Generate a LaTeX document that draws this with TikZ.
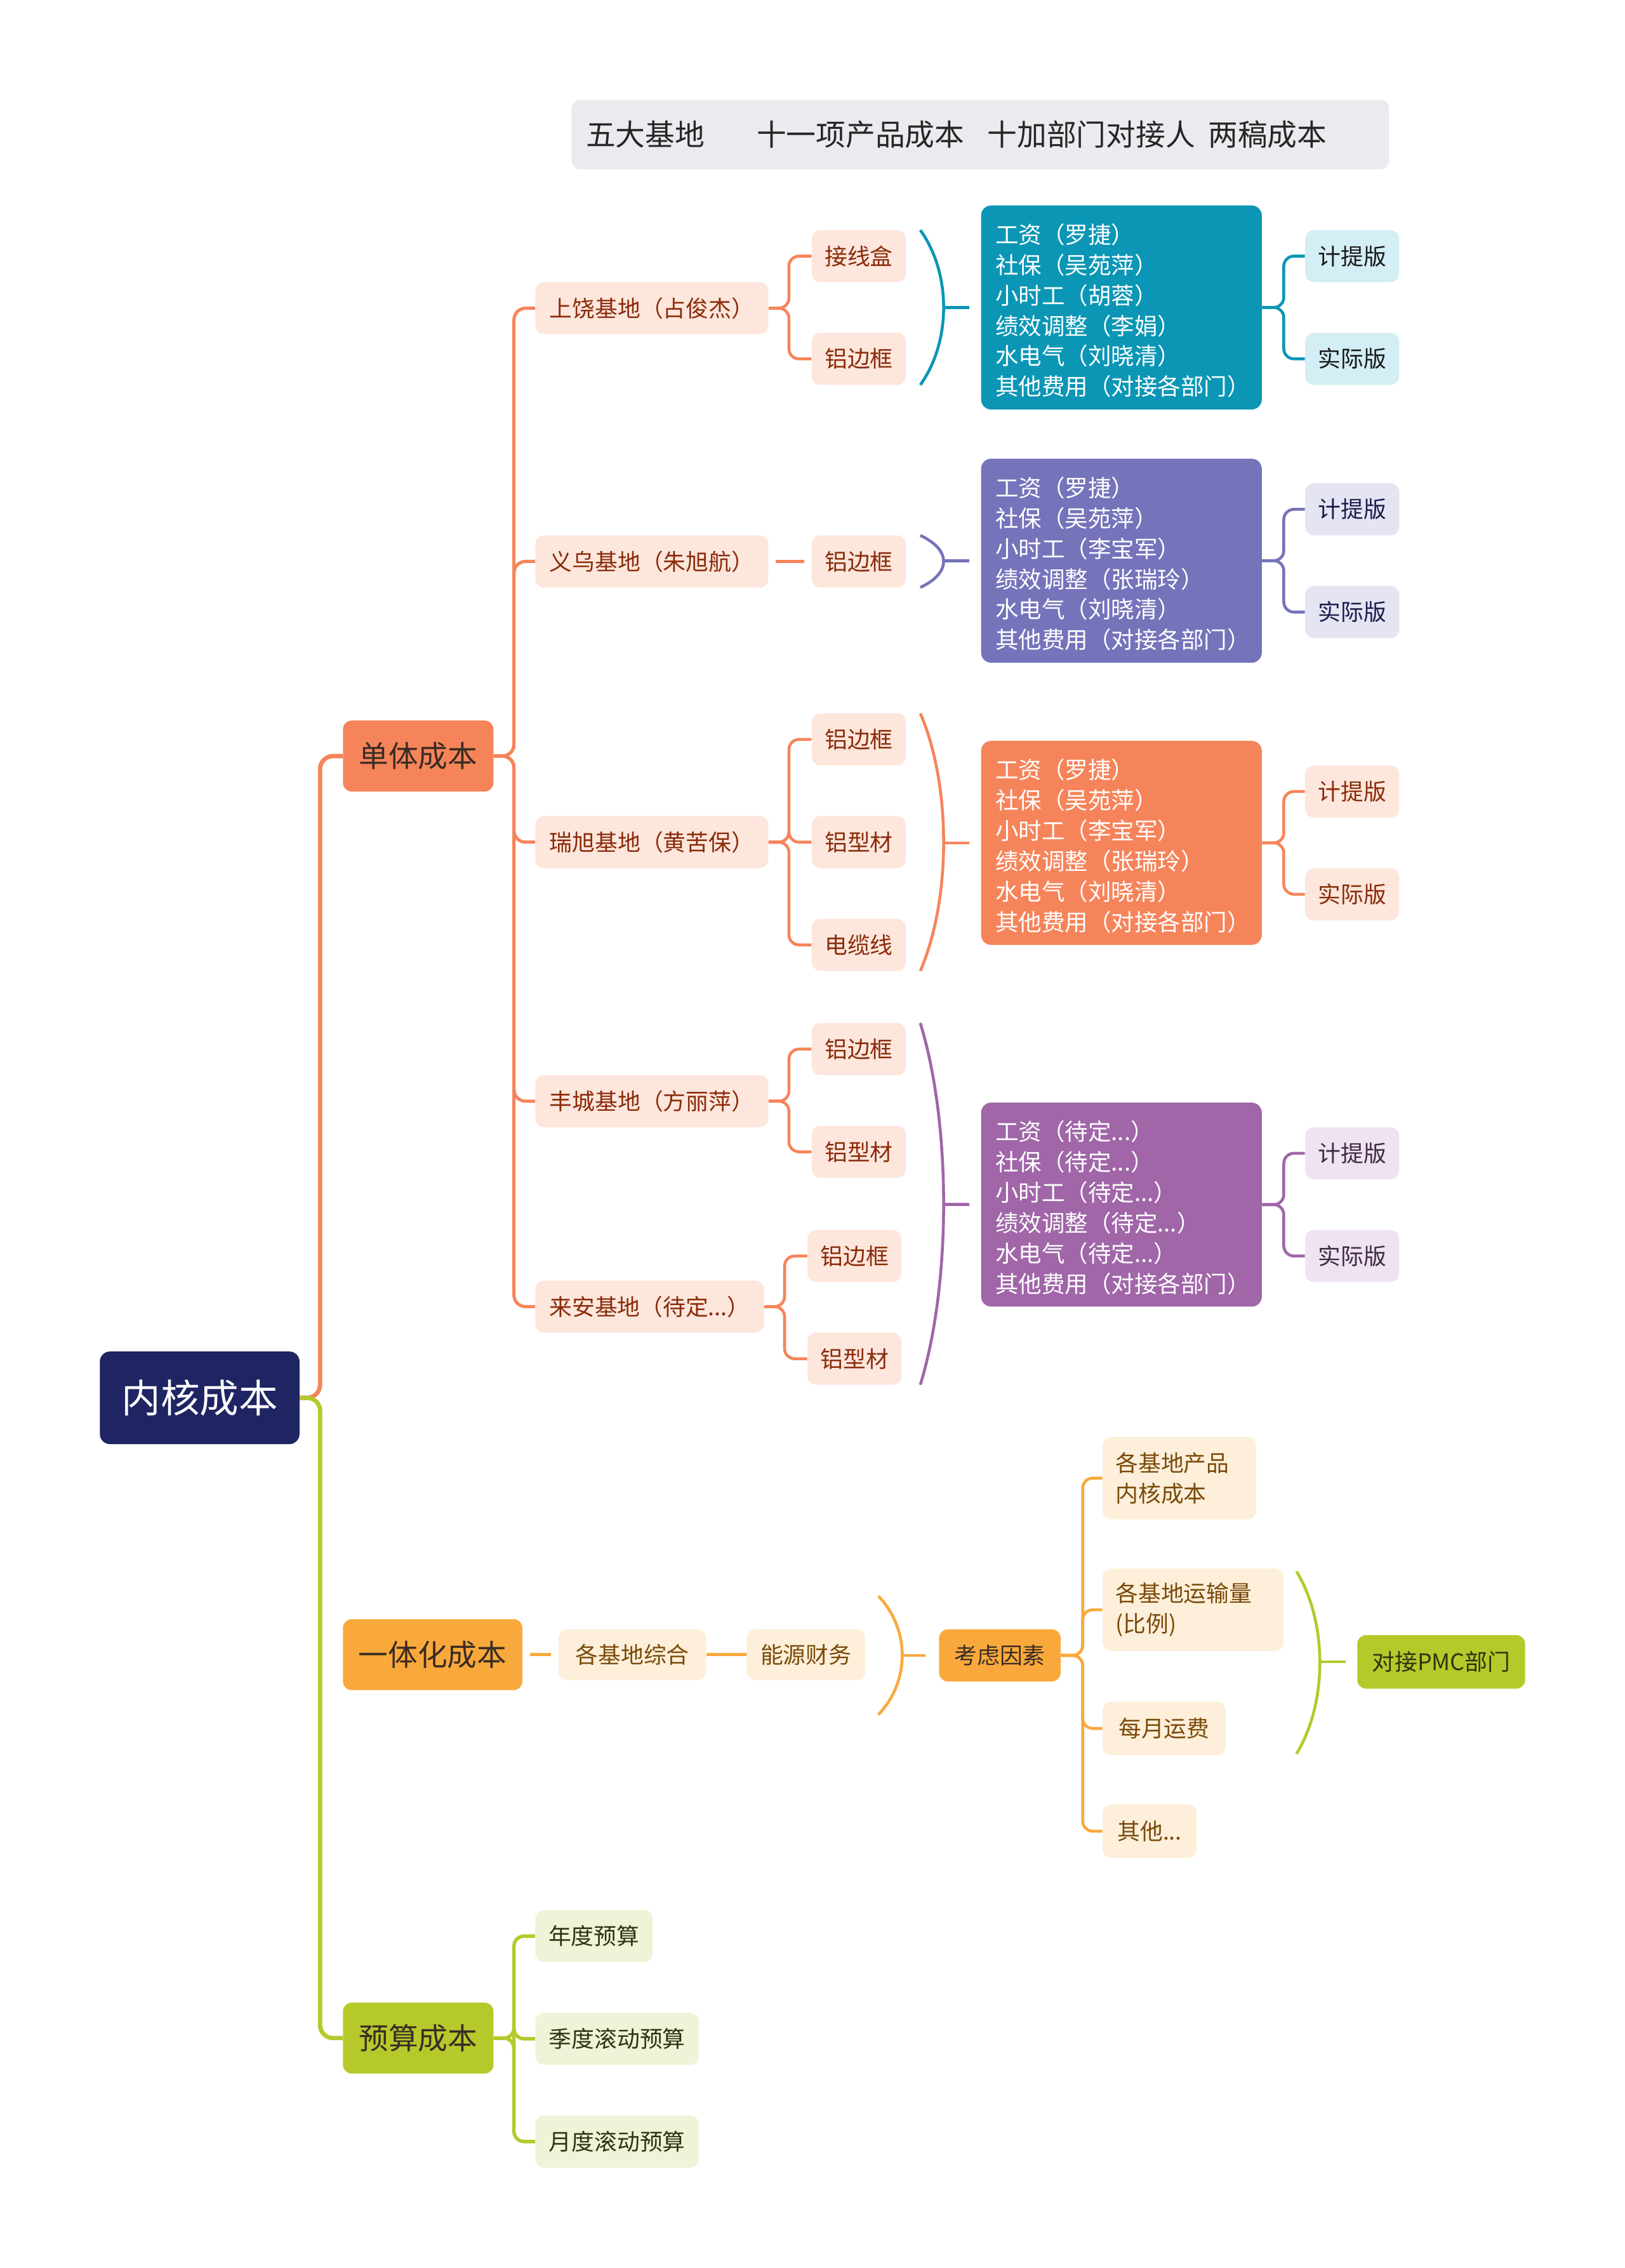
\documentclass[tikz,border=0pt]{standalone}
\usepackage{fontspec}
\setmainfont{Noto Sans CJK SC}
\definecolor{cNavy}{HTML}{1F2462}
\definecolor{cOrange}{HTML}{F6845A}
\definecolor{cYellow}{HTML}{F9A93B}
\definecolor{cGreen}{HTML}{B5C92B}
\definecolor{cTeal}{HTML}{0B96B5}
\definecolor{cBlue}{HTML}{7573BA}
\definecolor{cPurple}{HTML}{A066A8}
\definecolor{cPeach}{HTML}{FDE6DC}
\definecolor{cCream}{HTML}{FDEFD9}
\definecolor{cLGreen}{HTML}{EFF4D8}
\definecolor{cLTeal}{HTML}{D3EEF4}
\definecolor{cLBlue}{HTML}{E5E4F2}
\definecolor{cLPurple}{HTML}{EEE3F1}
\definecolor{cTitle}{HTML}{EBEBEF}
\definecolor{cRed}{HTML}{8A2B0A}
\definecolor{cBrown}{HTML}{7A4A0A}
\definecolor{cOlive}{HTML}{2E3310}
\definecolor{cDark}{HTML}{3A2C24}
\newcommand\prn[5]{%
  \draw[#1] (#2,#3) .. controls ({#2+#5},{#3+0.28*(#4-#3)}) and ({#2+#5},{#4-0.28*(#4-#3)}) .. (#2,#4);}
\newcommand\tstrut{\rule{0pt}{18pt}}
\begin{document}
\begin{tikzpicture}[x=1pt,y=-1pt,
  base/.style={rounded corners=6pt, inner sep=0pt, align=center, font=\fontsize{15.7}{19}\selectfont},
  lone/.style={base, minimum height=49, text=cDark, font=\fontsize{20.5}{24}\selectfont},
  ltwo/.style={base, fill=cPeach, text=cRed, minimum height=36},
  lthree/.style={base, fill=cPeach, text=cRed, minimum height=36, minimum width=65},
  bigbox/.style={rounded corners=7pt, text=white, align=left, text width=174pt, inner xsep=10pt, inner ysep=0pt, minimum height=141, font=\fontsize{16}{21}\selectfont},
  ver/.style={base, minimum width=65, minimum height=36},
  cream/.style={base, fill=cCream, text=cBrown},
  lgreen/.style={base, fill=cLGreen, text=cOlive, minimum height=36},
  lnO/.style={draw=cOrange, line width=2.2pt, rounded corners=8pt},
  lnT/.style={draw=cTeal, line width=2pt, rounded corners=7pt},
  lnB/.style={draw=cBlue, line width=2pt, rounded corners=7pt},
  lnP/.style={draw=cPurple, line width=2pt, rounded corners=7pt},
  lnOs/.style={draw=cOrange, line width=2pt, rounded corners=7pt},
  lnY/.style={draw=cYellow, line width=2pt, rounded corners=7pt},
  lnG/.style={draw=cGreen, line width=2pt, rounded corners=7pt}
]
\fill[white] (0,0) rectangle (1123,1567.4);
\useasboundingbox (0,0) rectangle (1123,1567.4);

% title
\node[rounded corners=6pt, fill=cTitle, text=black!85, align=left, text width=545pt, inner xsep=10pt, inner ysep=0pt, minimum height=48, font=\fontsize{20.5}{24}\selectfont] (ttl) at (677.5,93) {五大基地\hspace{36pt}十一项产品成本\hspace{16pt}十加部门对接人\hspace{9pt}两稿成本};

% root and level 1
\node[base, fill=cNavy, text=white, minimum width=138, minimum height=64, rounded corners=7pt, font=\fontsize{27}{30}\selectfont] (root) at (138,966) {内核成本};
\node[lone, fill=cOrange, minimum width=104] (dt) at (289,522.5) {单体成本};
\node[lone, fill=cYellow, minimum width=124] (yt) at (299,1143.5) {一体化成本};
\node[lone, fill=cGreen, minimum width=104] (ys) at (289,1408.5) {预算成本};

% level 2
\node[ltwo, minimum width=161] (sr) at (450.5,213) {上饶基地（占俊杰）};
\node[ltwo, minimum width=161] (yw) at (450.5,388) {义乌基地（朱旭航）};
\node[ltwo, minimum width=161] (rx) at (450.5,582) {瑞旭基地（黄苦保）};
\node[ltwo, minimum width=161] (fc) at (450.5,761) {丰城基地（方丽萍）};
\node[ltwo, minimum width=158] (la) at (449,903) {来安基地（待定...）};

% level 3
\node[lthree] (sr1) at (593.5,177) {接线盒};
\node[lthree] (sr2) at (593.5,248) {铝边框};
\node[lthree] (yw1) at (593.5,388) {铝边框};
\node[lthree] (rx1) at (593.5,511) {铝边框};
\node[lthree] (rx2) at (593.5,582) {铝型材};
\node[lthree] (rx3) at (593.5,653) {电缆线};
\node[lthree] (fc1) at (593.5,725) {铝边框};
\node[lthree] (fc2) at (593.5,796) {铝型材};
\node[lthree] (la1) at (590.5,868) {铝边框};
\node[lthree] (la2) at (590.5,939) {铝型材};

% big boxes
\node[bigbox, fill=cTeal] (B1) at (775,212.5) {\tstrut 工资（罗捷）\\社保（吴苑萍）\\小时工（胡蓉）\\绩效调整（李娟）\\水电气（刘晓清）\\其他费用（对接各部门）};
\node[bigbox, fill=cBlue] (B2) at (775,387.5) {\tstrut 工资（罗捷）\\社保（吴苑萍）\\小时工（李宝军）\\绩效调整（张瑞玲）\\水电气（刘晓清）\\其他费用（对接各部门）};
\node[bigbox, fill=cOrange] (B3) at (775,582.5) {\tstrut 工资（罗捷）\\社保（吴苑萍）\\小时工（李宝军）\\绩效调整（张瑞玲）\\水电气（刘晓清）\\其他费用（对接各部门）};
\node[bigbox, fill=cPurple] (B4) at (775,832.5) {\tstrut 工资（待定...）\\社保（待定...）\\小时工（待定...）\\绩效调整（待定...）\\水电气（待定...）\\其他费用（对接各部门）};

% versions
\node[ver, fill=cLTeal, text=black!90] (j1) at (934.5,177) {计提版};
\node[ver, fill=cLTeal, text=black!90] (s1) at (934.5,248) {实际版};
\node[ver, fill=cLBlue, text=cNavy!80!black] (j2) at (934.5,352) {计提版};
\node[ver, fill=cLBlue, text=cNavy!80!black] (s2) at (934.5,423) {实际版};
\node[ver, fill=cPeach, text=cRed] (j3) at (934.5,547) {计提版};
\node[ver, fill=cPeach, text=cRed] (s3) at (934.5,618) {实际版};
\node[ver, fill=cLPurple, text=cPurple!40!black] (j4) at (934.5,797) {计提版};
\node[ver, fill=cLPurple, text=cPurple!40!black] (s4) at (934.5,868) {实际版};

% integrated branch
\node[cream, minimum width=102, minimum height=35] (zh) at (437,1143.5) {各基地综合};
\node[cream, minimum width=82, minimum height=35] (ny) at (557,1143.5) {能源财务};
\node[base, fill=cYellow, text=cDark, minimum width=84, minimum height=36] (kl) at (691,1144) {考虑因素};
\node[cream, align=left, minimum width=106, minimum height=57, text width=88pt, inner xsep=9pt, font=\fontsize{15.7}{21}\selectfont] (c1) at (815,1021.5) {各基地产品\\内核成本};
\node[cream, align=left, minimum width=125, minimum height=57, text width=107pt, inner xsep=9pt, font=\fontsize{15.7}{21}\selectfont] (c2) at (824.5,1112.5) {各基地运输量\\(比例)};
\node[cream, minimum width=85, minimum height=37] (c3) at (804.5,1194.5) {每月运费};
\node[cream, minimum width=65, minimum height=37] (c4) at (794.5,1265.5) {其他...};
\node[base, fill=cGreen, text=cOlive, minimum width=116, minimum height=37] (pmc) at (996,1148.5) {对接PMC部门};

% budget branch
\node[lgreen, minimum width=81] (n1) at (410.5,1338) {年度预算};
\node[lgreen, minimum width=113] (n2) at (426.5,1409) {季度滚动预算};
\node[lgreen, minimum width=113] (n3) at (426.5,1480) {月度滚动预算};

% root connectors
\draw[draw=cOrange, line width=3pt, rounded corners=9pt] (root.east) -- ++(14,0) |- (dt.west);
\draw[draw=cGreen, line width=3pt, rounded corners=9pt] (root.east) -- ++(14,0) |- (ys.west);

% single-cost brace
\foreach \c in {sr,yw,rx,fc,la} \draw[lnO] (dt.east) -- ++(14,0) |- (\c.west);
\foreach \c in {sr1,sr2} \draw[lnOs] (sr.east) -- ++(14,0) |- (\c.west);
\draw[lnOs, shorten <=5pt, shorten >=5pt] (yw.east) -- (yw1.west);
\foreach \c in {rx1,rx2,rx3} \draw[lnOs] (rx.east) -- ++(14,0) |- (\c.west);
\foreach \c in {fc1,fc2} \draw[lnOs] (fc.east) -- ++(14,0) |- (\c.west);
\foreach \c in {la1,la2} \draw[lnOs] (la.east) -- ++(14,0) |- (\c.west);

% parens to boxes
\prn{lnT}{636}{159}{266}{21.5}
\coordinate (m1) at (652,212.5);
\draw[lnT] (m1) -- ([xshift=-8pt]B1.west);
\prn{lnB}{636}{370}{406}{21.5}
\coordinate (m2) at (652,387.5);
\draw[lnB] (m2) -- ([xshift=-8pt]B2.west);
\prn{lnOs}{636}{493}{671}{21.5}
\coordinate (m3) at (652,582.5);
\draw[lnOs] (m3) -- ([xshift=-8pt]B3.west);
\prn{lnP}{636}{707}{957}{21.5}
\coordinate (m4) at (652,832.5);
\draw[lnP] (m4) -- ([xshift=-8pt]B4.west);

% boxes to versions
\foreach \c in {j1,s1} \draw[lnT] (B1.east) -- ++(15,0) |- (\c.west);
\foreach \c in {j2,s2} \draw[lnB] (B2.east) -- ++(15,0) |- (\c.west);
\foreach \c in {j3,s3} \draw[lnOs] (B3.east) -- ++(15,0) |- (\c.west);
\foreach \c in {j4,s4} \draw[lnP] (B4.east) -- ++(15,0) |- (\c.west);

% integrated chain
\draw[lnY, shorten <=5pt, shorten >=5pt] (yt.east) -- (zh.west);
\draw[lnY] (zh.east) -- (ny.west);
\prn{lnY}{607}{1103}{1185}{22}
\coordinate (m5) at (623.5,1144);
\draw[lnY] (m5) -- ([xshift=-9pt]kl.west);
\foreach \c in {c1,c2,c3,c4} \draw[lnY] (kl.east) -- ++(15,0) |- (\c.west);
\prn{lnG}{896}{1086}{1212}{21.5}
\coordinate (m6) at (912,1148.5);
\draw[lnG] (m6) -- ([xshift=-8pt]pmc.west);

% budget brace
\foreach \c in {n1,n2,n3} \draw[lnG, line width=2.4pt] (ys.east) -- ++(14,0) |- (\c.west);
\end{tikzpicture}
\end{document}
